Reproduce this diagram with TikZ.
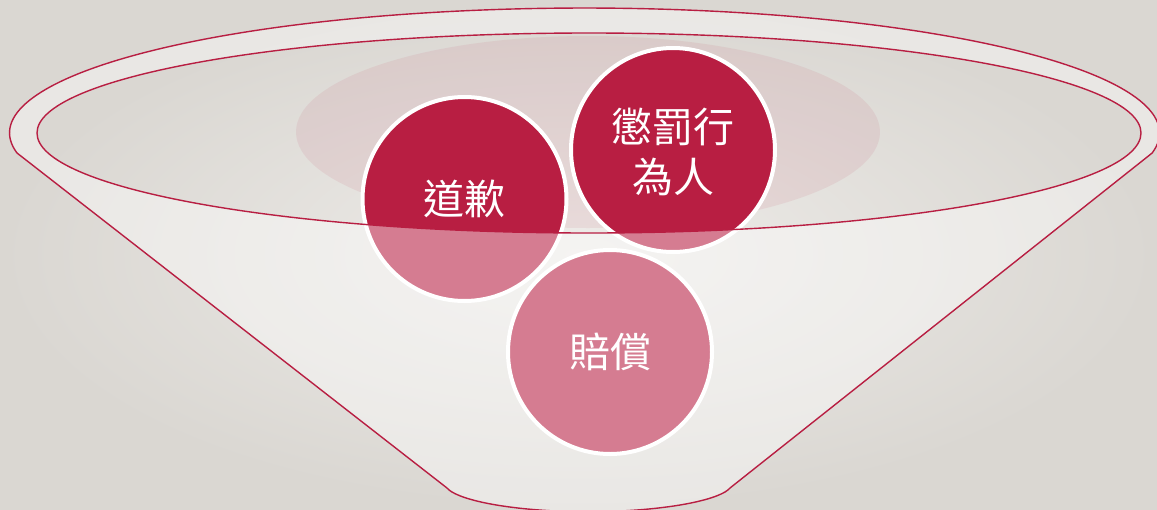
\documentclass[tikz,border=0pt]{standalone}
\usepackage{fontspec}
\newfontfamily\cjk{Noto Sans CJK TC}
\definecolor{crim}{RGB}{184,30,66}
\definecolor{bgin}{RGB}{238,236,233}
\definecolor{bgout}{RGB}{218,215,210}
\begin{document}
\begin{tikzpicture}[x=1pt,y=-1pt,
  rim/.style={draw=crim, line width=1.4pt},
  ball/.style={circle, fill=crim, draw=white, line width=4pt, minimum size=204pt, inner sep=0pt},
  lbl/.style={text=white, font=\cjk\fontsize{41}{50}\selectfont, align=center, inner sep=0pt}]
\useasboundingbox (0,0) rectangle (1157,509);
\shade[inner color=bgin, outer color=bgout] (0,0) rectangle (1157,509);
% pink glow
\fill[crim, opacity=0.08] (588,132) ellipse [x radius=292, y radius=96];
% balls
\node[ball] (dq) at (464.5,199) {};
\node[ball] (cf) at (673,150) {};
\node[ball] (pc) at (610,352) {};
% funnel face (translucent)
\fill[white, opacity=0.42, even odd rule]
  (17,153) arc[start angle=170.8, end angle=369.2, x radius=575, y radius=125]
  -- (730,488) .. controls (722,498) and (676,511) .. (588,512)
  .. controls (500,511) and (455,498) .. (447,488) -- cycle
  (589,133) ellipse [x radius=552, y radius=100];
% outlines
\draw[rim, line join=round]
  (17,153) arc[start angle=170.8, end angle=369.2, x radius=575, y radius=125]
  -- (730,488) .. controls (722,498) and (676,511) .. (588,512)
  .. controls (500,511) and (455,498) .. (447,488) -- cycle;
\draw[rim] (589,133) ellipse [x radius=552, y radius=100];
% labels
\node[lbl] (tdq) at (dq.center) {道歉};
\node[lbl] (tcf) at ([yshift=-2pt]cf.center) {懲罰行\\為人};
\node[lbl] (tpc) at (pc.center) {賠償};
\end{tikzpicture}
\end{document}
